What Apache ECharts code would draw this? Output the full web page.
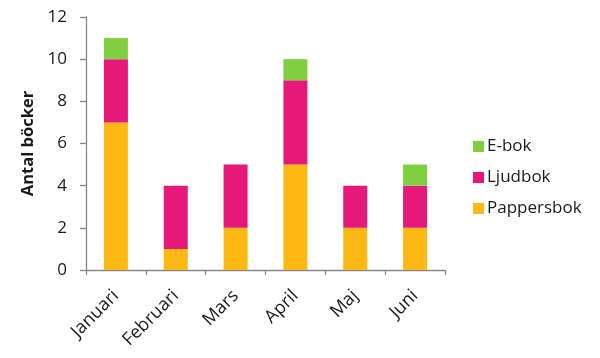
<!DOCTYPE html>
<html><head><meta charset="utf-8">
<script src="https://cdn.jsdelivr.net/npm/echarts@6/dist/echarts.min.js"></script>
<style>html,body{margin:0;padding:0;background:#fff}#c{width:600px;height:358px}</style>
</head><body><div id="c"></div>
<script>
const categories = ['Januari','Februari','Mars','April','Maj','Juni'];
const pappersbok = [7,1,2,5,2,2];
const ljudbok = [3,3,3,4,2,2];
const ebok = [1,0,0,1,0,1];
const yTicks = [0,2,4,6,8,10,12];

const font = "'Open Sans', 'Liberation Sans', sans-serif";
const chart = echarts.init(document.getElementById('c'));
chart.setOption({
  animation: false,
  textStyle: {fontFamily: font},
  grid: {left: 86, top: 17, width: 359, height: 253, containLabel: false},
  legend: {
    orient: 'vertical', left: 468, top: 133, itemGap: 14,
    itemWidth: 11, itemHeight: 11, icon: 'rect',
    data: ['E-bok','Ljudbok','Pappersbok'],
    textStyle: {fontFamily: font, fontSize: 17, color: '#1a1a1a', padding: [0,0,0,-2]}
  },
  xAxis: {
    type: 'category', data: categories,
    axisLine: {lineStyle: {color: '#888', width: 1.3}},
    axisTick: {show: true, length: 5, lineStyle: {color: '#888', width: 1.3}},
    axisLabel: {rotate: 45, fontSize: 18, color: '#1a1a1a', fontFamily: font, margin: 23}
  },
  yAxis: {
    type: 'value', min: 0, max: 12, interval: 2,
    name: 'Antal böcker', nameLocation: 'middle', nameGap: 48, nameRotate: 90,
    nameTextStyle: {fontSize: 16.5, fontWeight: 'bold', color: '#1a1a1a', fontFamily: font},
    axisLine: {show: true, lineStyle: {color: '#888', width: 1.3}},
    axisTick: {show: true, length: 6, inside: false, lineStyle: {color: '#888', width: 1.3}},
    splitLine: {show: false},
    axisLabel: {fontSize: 17, color: '#1a1a1a', fontFamily: font, margin: 19,
      formatter: v => yTicks.includes(v) ? String(v) : ''}
  },
  series: [
    {name: 'Pappersbok', type: 'bar', stack: 's', data: pappersbok, barWidth: 24, itemStyle: {color: '#FDB813'}},
    {name: 'Ljudbok', type: 'bar', stack: 's', data: ljudbok, barWidth: 24, itemStyle: {color: '#E6197A'}},
    {name: 'E-bok', type: 'bar', stack: 's', data: ebok, barWidth: 24, itemStyle: {color: '#7FCF3F'}}
  ]
});
</script></body></html>
